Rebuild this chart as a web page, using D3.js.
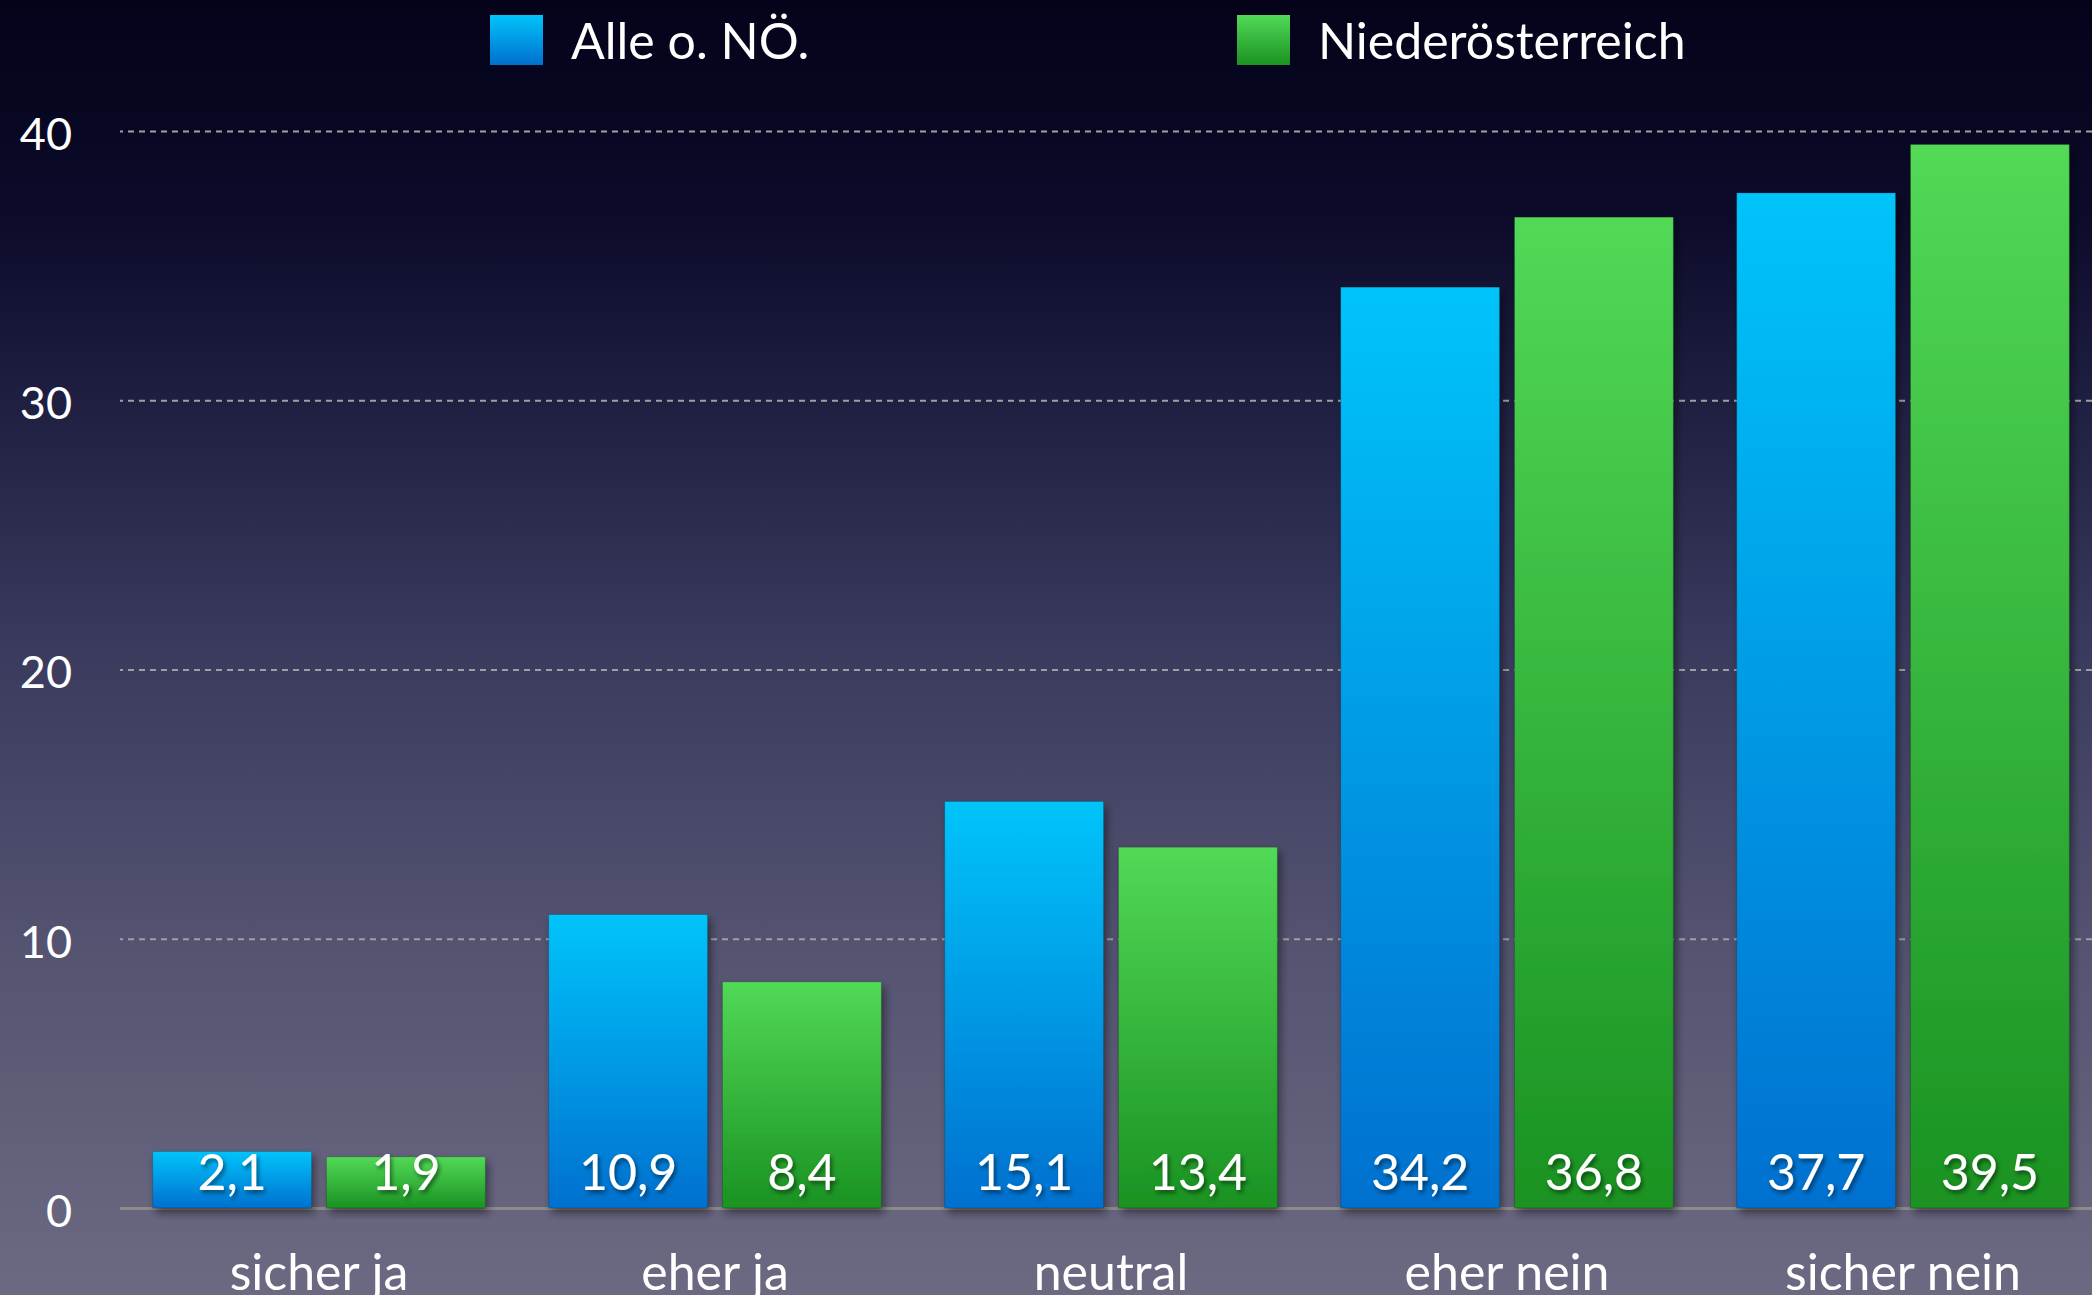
<!DOCTYPE html>
<html>
  <head>
    <meta charset="utf-8" />
    <title>sicher ja / sicher nein</title>
    <script src="https://d3js.org/d3.v7.min.js"></script>
  </head>
  <style>
    body {
      margin: 0;
      background: #05041a;
      overflow: hidden;
    }
    text {
      font-family: Lato, "Open Sans", sans-serif;
      fill: #fff;
    }
  </style>
  <body>
    <div id="chart"></div>
    <script>

    // chart data
    var categories = ["sicher ja", "eher ja", "neutral", "eher nein", "sicher nein"];
    var seriesNames = ["Alle o. NÖ.", "Niederösterreich"];
    var alleValues = [2.1, 10.9, 15.1, 34.2, 37.7];
    var noeValues = [1.9, 8.4, 13.4, 36.8, 39.5];
    var yTicks = [0, 10, 20, 30, 40];

    var width = 2092;
    var height = 1295;

    var svg = d3.select("#chart").append("svg")
        .attr("width", width)
        .attr("height", height);

    var defs = svg.append("defs");

    // background gradient
    var bg = defs.append("linearGradient")
        .attr("id", "bg")
        .attr("x1", 0).attr("y1", 0).attr("x2", 0).attr("y2", 1);
    [["0%", "#04031a"], ["17%", "#0c0b2a"], ["31%", "#1f1f41"],
     ["49%", "#39395d"], ["75%", "#565572"], ["100%", "#6c6a82"]].forEach(function(s) {
      bg.append("stop").attr("offset", s[0]).attr("stop-color", s[1]);
    });

    // bar gradients
    var barColors = [["#00c4fa", "#0070cf"], ["#52d957", "#1a9222"]];
    barColors.forEach(function(c, i) {
      var g = defs.append("linearGradient")
          .attr("id", "bar" + i)
          .attr("x1", 0).attr("y1", 0).attr("x2", 0).attr("y2", 1);
      g.append("stop").attr("offset", "0%").attr("stop-color", c[0]);
      g.append("stop").attr("offset", "100%").attr("stop-color", c[1]);
    });

    var shadow = defs.append("filter").attr("id", "shadow")
        .attr("x", "-10%").attr("y", "-10%").attr("width", "130%").attr("height", "130%");
    shadow.append("feDropShadow")
        .attr("dx", 3).attr("dy", 5).attr("stdDeviation", 4)
        .attr("flood-color", "#000").attr("flood-opacity", 0.45);

    var textShadow = defs.append("filter").attr("id", "tshadow")
        .attr("x", "-20%").attr("y", "-20%").attr("width", "150%").attr("height", "150%");
    textShadow.append("feDropShadow")
        .attr("dx", 2).attr("dy", 3).attr("stdDeviation", 2)
        .attr("flood-color", "#000").attr("flood-opacity", 0.5);

    svg.append("rect")
        .attr("width", width)
        .attr("height", height)
        .attr("fill", "url(#bg)");

    // scales
    var y = d3.scaleLinear().domain([0, 40]).range([1208, 131]);

    var x0 = d3.scaleBand()
        .domain(categories)
        .range([121, 2101])
        .paddingInner(0.16)
        .paddingOuter(0.08);

    var x1 = d3.scaleBand()
        .domain(seriesNames)
        .range([0, x0.bandwidth()])
        .paddingInner(0.086);

    var fmt = function(v) { return d3.format(".1f")(v).replace(".", ","); };

    // y axis + grid
    var yAxis = svg.append("g")
        .attr("transform", "translate(" + width + ",0)")
        .call(d3.axisLeft(y).tickValues(yTicks).tickSize(width - 120).tickPadding(48));
    yAxis.select(".domain").remove();
    yAxis.selectAll("line")
        .attr("stroke", "#a0a0a0")
        .attr("stroke-width", 2)
        .attr("stroke-dasharray", "6,5");
    yAxis.selectAll("text")
        .attr("font-size", 45)
        .attr("y", 4)
        .attr("fill", "#fff");
    yAxis.selectAll(".tick").filter(function(d) { return d === 0; }).select("line")
        .attr("stroke", "#8e8c88")
        .attr("stroke-width", 3)
        .attr("stroke-dasharray", null);

    // bars
    var rows = categories.map(function(c, i) {
      return [
        { cat: c, series: seriesNames[0], idx: 0, value: alleValues[i] },
        { cat: c, series: seriesNames[1], idx: 1, value: noeValues[i] }
      ];
    });

    var groups = svg.append("g").selectAll("g")
        .data(rows)
        .enter().append("g")
          .attr("transform", function(d) { return "translate(" + x0(d[0].cat) + ",0)"; });

    groups.selectAll("rect")
        .data(function(d) { return d; })
        .enter().append("rect")
          .attr("x", function(d) { return x1(d.series); })
          .attr("y", function(d) { return y(d.value); })
          .attr("width", x1.bandwidth())
          .attr("height", function(d) { return y(0) - y(d.value); })
          .attr("fill", function(d) { return "url(#bar" + d.idx + ")"; })
          .attr("stroke", "rgba(0,0,0,0.18)")
          .attr("stroke-width", 1)
          .attr("filter", "url(#shadow)");

    groups.selectAll("text")
        .data(function(d) { return d; })
        .enter().append("text")
          .attr("x", function(d) { return x1(d.series) + x1.bandwidth() / 2; })
          .attr("y", y(0) - 18)
          .attr("text-anchor", "middle")
          .attr("font-size", 50)
          .attr("filter", "url(#tshadow)")
          .text(function(d) { return fmt(d.value); });

    // x axis labels
    var xAxis = svg.append("g")
        .attr("transform", "translate(0," + y(0) + ")")
        .call(d3.axisBottom(x0).tickSize(0).tickPadding(46));
    xAxis.select(".domain").remove();
    xAxis.selectAll("text")
        .attr("font-size", 50)
        .attr("fill", "#fff");

    // legend
    var legendX = [490, 1237];
    var legend = svg.append("g").selectAll("g")
        .data(seriesNames)
        .enter().append("g")
          .attr("transform", function(d, i) { return "translate(" + legendX[i] + ",15)"; });

    legend.append("rect")
        .attr("width", 53)
        .attr("height", 50)
        .attr("fill", function(d, i) { return "url(#bar" + i + ")"; });

    legend.append("text")
        .attr("x", 81)
        .attr("y", 44)
        .attr("font-size", 50)
        .text(function(d) { return d; });

    </script>
  </body>
</html>
